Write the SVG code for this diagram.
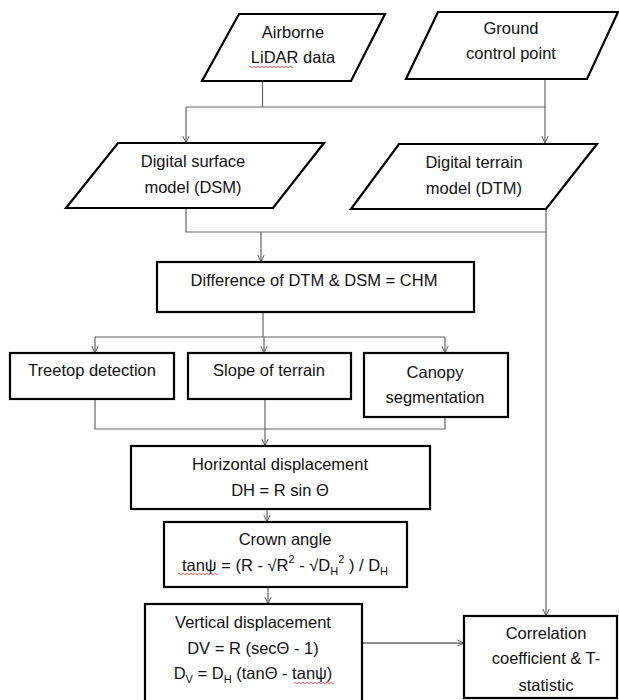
<svg xmlns="http://www.w3.org/2000/svg" width="619" height="700" viewBox="0 0 619 700">
<style>
.shape{fill:#fff;stroke:#000;stroke-width:2.2}
.t{font-family:"Liberation Sans",Arial,sans-serif;font-size:16.5px;fill:#111;text-anchor:middle;dominant-baseline:central}
.s{font-size:11px}
.c{fill:none;stroke:#666;stroke-width:1.2}
.sq{fill:none;stroke:#e03030;stroke-width:0.8}
</style>
<defs>
<marker id="arr" viewBox="0 0 10 10" refX="10" refY="5" markerWidth="7" markerHeight="9" orient="auto" markerUnits="userSpaceOnUse">
<path d="M0,0.5 L10,5 L0,9.5" fill="none" stroke="#555" stroke-width="1.3"/>
</marker>
</defs>
<rect width="619" height="700" fill="#fff"/>

<g id="connectors">
<path class="c" d="M262.5,81 V107"/>
<path class="c" d="M186,107 H545"/>
<path class="c" d="M186,107 V143" marker-end="url(#arr)"/>
<path class="c" d="M545,79 V143" marker-end="url(#arr)"/>
<path class="c" d="M186,208 V232 H546"/>
<path class="c" d="M261,232 V262" marker-end="url(#arr)"/>
<path class="c" d="M546,209 V616" marker-end="url(#arr)"/>
<path class="c" d="M263,312 V337"/>
<path class="c" d="M95,337 H445"/>
<path class="c" d="M95,337 V353" marker-end="url(#arr)"/>
<path class="c" d="M264,337 V353" marker-end="url(#arr)"/>
<path class="c" d="M445,337 V353" marker-end="url(#arr)"/>
<path class="c" d="M95,399 V429 H445 V417"/>
<path class="c" d="M265,399 V446" marker-end="url(#arr)"/>
<path class="c" d="M267,509 V522" marker-end="url(#arr)"/>
<path class="c" d="M268,587 V604" marker-end="url(#arr)"/>
<path class="c" style="stroke:#222" d="M362,643 H464" marker-end="url(#arr)"/>
</g>

<g id="airborne">
<polygon class="shape" points="239,14 385,14 351,81 202,81"/>
<text class="t" x="293" y="32">Airborne</text>
<text class="t" x="293" y="57">LiDAR data</text>
<path class="sq" d="M249,67 q1,-1.2 2,0 t2,0 t2,0 t2,0 t2,0 t2,0 t2,0 t2,0 t2,0 t2,0 t2,0 t2,0 t2,0 t2,0 t2,0 t2,0 t2,0 t2,0 t2,0 t2,0 t2,0 t2,0"/>
</g>

<g id="ground">
<polygon class="shape" points="438,12 618,12 587,79 406,79"/>
<text class="t" x="511" y="28">Ground</text>
<text class="t" x="511" y="53">control point</text>
</g>

<g id="dsm">
<polygon class="shape" points="118,143 324,143 273,208 66,208"/>
<text class="t" x="193" y="161">Digital surface</text>
<text class="t" x="193" y="187">model (DSM)</text>
</g>

<g id="dtm">
<polygon class="shape" points="399,144 597,144 546,209 351,209"/>
<text class="t" x="474" y="162">Digital terrain</text>
<text class="t" x="474" y="188">model (DTM)</text>
</g>

<g id="difference">
<rect class="shape" x="157" y="262" width="317" height="50"/>
<text class="t" x="314" y="280">Difference of DTM &amp; DSM = CHM</text>
</g>

<g id="treetop">
<rect class="shape" x="10" y="353" width="164" height="46"/>
<text class="t" x="92" y="370">Treetop detection</text>
</g>

<g id="slope">
<rect class="shape" x="188" y="353" width="163" height="46"/>
<text class="t" x="269" y="370">Slope of terrain</text>
</g>

<g id="canopy">
<rect class="shape" x="364" y="353" width="144" height="64"/>
<text class="t" x="435" y="372">Canopy</text>
<text class="t" x="435" y="397">segmentation</text>
</g>

<g id="horizontal">
<rect class="shape" x="131" y="446" width="299" height="63"/>
<text class="t" x="280" y="464">Horizontal displacement</text>
<text class="t" x="280" y="490">DH = R sin Θ</text>
</g>

<g id="crown">
<rect class="shape" x="164" y="522" width="243" height="65"/>
<text class="t" x="285" y="539">Crown angle</text>
<text class="t" x="285" y="565">tanψ = (R - √R<tspan class="s" baseline-shift="super">2</tspan> - √D<tspan class="s" baseline-shift="sub">H</tspan><tspan class="s" baseline-shift="super">2</tspan> ) / D<tspan class="s" baseline-shift="sub">H</tspan></text>
<path class="sq" d="M178,574 q1,-1.2 2,0 t2,0 t2,0 t2,0 t2,0 t2,0 t2,0 t2,0 t2,0 t2,0 t2,0 t2,0 t2,0 t2,0 t2,0 t2,0 t2,0 t2,0 t2,0 t2,0"/>
</g>

<g id="vertical">
<rect class="shape" x="145" y="604" width="217" height="100"/>
<text class="t" x="253" y="622">Vertical displacement</text>
<text class="t" x="253" y="648">DV = R (secΘ - 1)</text>
<text class="t" x="253" y="673">D<tspan class="s" baseline-shift="sub">V</tspan> = D<tspan class="s" baseline-shift="sub">H</tspan> (tanΘ - tanψ)</text>
<path class="sq" d="M294,683 q1,-1.2 2,0 t2,0 t2,0 t2,0 t2,0 t2,0 t2,0 t2,0 t2,0 t2,0 t2,0 t2,0 t2,0 t2,0 t2,0 t2,0 t2,0 t2,0 t2,0 t2,0"/>
</g>

<g id="correlation">
<rect class="shape" x="464" y="616" width="153" height="82"/>
<text class="t" x="546" y="633">Correlation</text>
<text class="t" x="546" y="658">coefficient &amp; T-</text>
<text class="t" x="546" y="685">statistic</text>
</g>
</svg>
